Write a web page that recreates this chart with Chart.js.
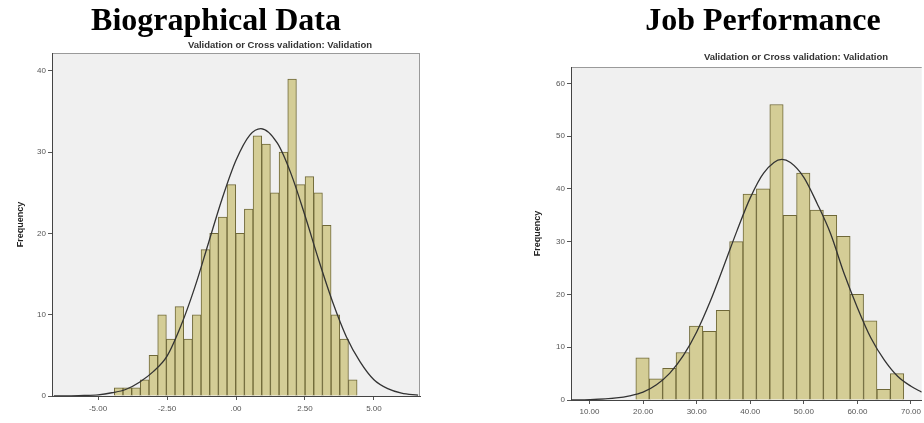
<!DOCTYPE html>
<html lang="en">
<head>
<meta charset="UTF-8">
<title>Biographical Data / Job Performance</title>
<script src="https://cdn.jsdelivr.net/npm/chart.js"></script>
<style>
    body {
        margin: 0;
        background: #fff;
        overflow: hidden;
    }

    .wrap {
        position: relative;
        width: 924px;
        height: 423px;
    }

    canvas {
        position: absolute;
        top: 0;
    }

    .title {
        position: absolute;
        font-family: "Liberation Serif", "Times New Roman", serif;
        font-weight: bold;
        font-size: 32px;
        line-height: 32px;
        white-space: nowrap;
        transform: translateX(-50%);
        color: #000;
    }

    .sub {
        position: absolute;
        font-family: "Liberation Sans", Arial, sans-serif;
        font-weight: bold;
        font-size: 9.5px;
        line-height: 10px;
        white-space: nowrap;
        transform: translateX(-50%);
        color: #333;
    }
</style>
</head>
<body>
<div class="wrap">
    <canvas id="bioChart" width="462" height="423" style="left:0"></canvas>
    <canvas id="jobChart" width="462" height="423" style="left:462px"></canvas>
    <div class="title" style="left:216px; top:3px">Biographical Data</div>
    <div class="title" style="left:763px; top:3px">Job Performance</div>
    <div class="sub" style="left:280px; top:40px">Validation or Cross validation: Validation</div>
    <div class="sub" style="left:796px; top:52px">Validation or Cross validation: Validation</div>
</div>

<script>
// Biographical Data histogram
const bioBins = [-4.253, -3.939, -3.624, -3.310, -2.996, -2.681, -2.367, -2.053, -1.739, -1.424,
                 -1.110, -0.796, -0.481, -0.167, 0.147, 0.461, 0.776, 1.090, 1.404, 1.719,
                 2.033, 2.347, 2.661, 2.976, 3.290, 3.604, 3.919, 4.233];
const bioCounts = [1, 1, 1, 2, 5, 10, 7, 11, 7, 10,
                   18, 20, 22, 26, 20, 23, 32, 31, 25, 30,
                   39, 26, 27, 25, 21, 10, 7, 2];
const bioCurveX = [-6.6, -6, -5.5, -5, -4.5, -4, -3.5, -3, -2.5, -2, -1.5, -1, -0.5, 0, 0.5, 0.9,
                   1.5, 2, 2.5, 3, 3.5, 4, 4.5, 5, 5.5, 6, 6.6];
const bioCurveY = [0.0, 0.02, 0.06, 0.15, 0.4, 0.8, 1.7, 3.0, 4.9, 8.6, 13.3, 18.8, 24.3, 29.0, 32.1, 32.9,
                   31.1, 27.3, 22.2, 16.7, 11.6, 7.3, 4.2, 2.0, 0.9, 0.35, 0.1];
const bioXTicks = [-5, -2.5, 0, 2.5, 5];
const bioXLabels = ['-5.00', '-2.50', '.00', '2.50', '5.00'];
const bioYTicks = [0, 10, 20, 30, 40];

// Job Performance histogram
const jobBins = [19.9, 22.4, 24.9, 27.4, 29.9, 32.4, 34.9, 37.4, 39.9, 42.4,
                 44.9, 47.4, 49.9, 52.4, 54.9, 57.4, 59.9, 62.4, 64.9, 67.4];
const jobCounts = [8, 4, 6, 9, 14, 13, 17, 30, 39, 40,
                   56, 35, 43, 36, 35, 31, 20, 15, 2, 5];
const jobCurveX = [6.6, 10, 15, 17.5, 20, 22.5, 25, 27.5, 30, 32.5, 35, 37.5, 40, 42.5, 45.9,
                   47.5, 50, 52.5, 55, 57.5, 60, 62.5, 65, 67.5, 70, 72];
const jobCurveY = [0.0, 0.07, 0.4, 0.8, 1.5, 2.9, 5.1, 8.4, 12.9, 18.6, 25.2, 32.0, 38.3, 43.0, 45.6,
                   45.0, 42.2, 37.2, 31.5, 24.0, 17.5, 11.8, 7.6, 4.5, 2.6, 1.5];
const jobXTicks = [10, 20, 30, 40, 50, 60, 70];
const jobXLabels = ['10.00', '20.00', '30.00', '40.00', '50.00', '60.00', '70.00'];
const jobYTicks = [0, 10, 20, 30, 40, 50, 60];

// grey plot background + thin frame on top (and right when visible)
const plotFrame = {
    id: 'plotFrame',
    beforeDraw(chart, args, opts) {
        const { ctx, chartArea: a } = chart;
        ctx.save();
        ctx.fillStyle = '#f0f0f0';
        ctx.fillRect(a.left, a.top, a.right - a.left, a.bottom - a.top);
        ctx.strokeStyle = '#9a9a9a';
        ctx.lineWidth = 1;
        ctx.beginPath();
        ctx.moveTo(a.left, a.top + 0.5);
        ctx.lineTo(a.right, a.top + 0.5);
        if (opts.right) {
            ctx.moveTo(a.right - 0.5, a.top);
            ctx.lineTo(a.right - 0.5, a.bottom);
        }
        ctx.stroke();
        ctx.restore();
    }
};

const tickFont = { family: '"Liberation Sans", Arial, sans-serif', size: 8 };

function makeHistogram(id, cfg) {
    const ctx = document.getElementById(id).getContext('2d');
    return new Chart(ctx, {
        type: 'bar',
        data: {
            datasets: [
                {
                    type: 'line',
                    data: cfg.curveX.map((x, i) => ({ x: x, y: cfg.curveY[i] })),
                    borderColor: '#333333',
                    borderWidth: 1.3,
                    pointRadius: 0,
                    fill: false,
                    cubicInterpolationMode: 'monotone',
                    order: 1
                },
                {
                    data: cfg.bins.map((x, i) => ({ x: x, y: cfg.counts[i] })),
                    backgroundColor: '#d4cd96',
                    borderColor: '#6f6838',
                    borderWidth: 1,
                    barPercentage: 1,
                    categoryPercentage: 1,
                    order: 2
                }
            ]
        },
        options: {
            responsive: false,
            animation: false,
            devicePixelRatio: 1,
            layout: { padding: cfg.padding },
            plugins: {
                legend: { display: false },
                tooltip: { enabled: false },
                plotFrame: { right: cfg.frameRight }
            },
            scales: {
                x: {
                    type: 'linear',
                    min: cfg.xMin,
                    max: cfg.xMax,
                    offset: false,
                    grid: { drawOnChartArea: false, drawTicks: true, tickLength: 4, color: '#555', offset: false },
                    border: { color: '#444', width: 1 },
                    ticks: {
                        font: tickFont,
                        color: '#555',
                        padding: cfg.xPad,
                        maxRotation: 0,
                        autoSkip: false,
                        callback: (v, i) => cfg.xLabels[i]
                    },
                    afterBuildTicks: s => { s.ticks = cfg.xTicks.map(v => ({ value: v })); },
                    afterFit: s => { s.height = cfg.xHeight; }
                },
                y: {
                    type: 'linear',
                    min: 0,
                    max: cfg.yMax,
                    grid: { drawOnChartArea: false, drawTicks: true, tickLength: 4, color: '#555' },
                    border: { color: '#444', width: 1 },
                    ticks: { font: tickFont, color: '#555', padding: 2 },
                    afterBuildTicks: s => { s.ticks = cfg.yTicks.map(v => ({ value: v })); },
                    afterFit: s => { s.width = cfg.yWidth; },
                    title: {
                        display: true,
                        text: 'Frequency',
                        color: '#222',
                        font: { family: '"Liberation Sans", Arial, sans-serif', size: 9, weight: 'bold' },
                        padding: { top: cfg.titlePad, bottom: 0 }
                    }
                }
            }
        },
        plugins: [plotFrame]
    });
}

makeHistogram('bioChart', {
    bins: bioBins, counts: bioCounts, curveX: bioCurveX, curveY: bioCurveY,
    xTicks: bioXTicks, xLabels: bioXLabels, yTicks: bioYTicks,
    xMin: -6.67, xMax: 6.67, yMax: 42.2,
    padding: { left: 0, top: 53, right: 42, bottom: 0 },
    yWidth: 52, xHeight: 27, xPad: 4, titlePad: 15, frameRight: true
});

makeHistogram('jobChart', {
    bins: jobBins, counts: jobCounts, curveX: jobCurveX, curveY: jobCurveY,
    xTicks: jobXTicks, xLabels: jobXLabels, yTicks: jobYTicks,
    xMin: 6.55, xMax: 72.0, yMax: 63.1,
    padding: { left: 68, top: 67, right: 0, bottom: 0 },
    yWidth: 41, xHeight: 23, xPad: 3, titlePad: 2, frameRight: false
});
</script>
</body>
</html>
